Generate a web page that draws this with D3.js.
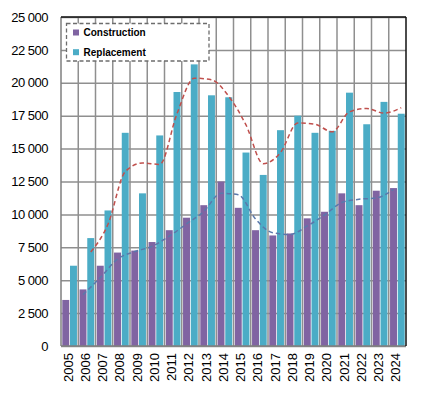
<!DOCTYPE html>
<html>
<head>
<meta charset="utf-8">
<script src="https://cdn.jsdelivr.net/npm/d3@7"></script>
<style>
  body { margin: 0; background: #fff; }
  text { font-family: "Liberation Sans", Arial, sans-serif; fill: #000; }
</style>
</head>
<body>
<div id="chart"></div>
<script>
// datos
const years = ["2005","2006","2007","2008","2009","2010","2011","2012","2013","2014",
               "2015","2016","2017","2018","2019","2020","2021","2022","2023","2024"];
const construction = [3500, 4300, 6100, 7100, 7250, 7900, 8800, 9750, 10700, 12500,
                      10500, 8800, 8400, 8550, 9700, 10200, 11600, 10700, 11800, 12000];
const replacement = [6100, 8200, 10300, 16200, 11600, 16000, 19300, 21400, 19050, 18900,
                     14700, 13000, 16400, 17500, 16200, 16350, 19250, 16850, 18550, 17650];
// lineas de tendencia (media movil de 2 periodos), desde 2006
const trendYears = years.slice(1);
const constructionTrend = [3900, 5200, 6600, 7175, 7575, 8350, 9275, 10225, 11600, 11500,
                           9650, 8600, 8475, 9125, 9950, 10900, 11150, 11250, 11900];
const replacementTrend = [7150, 9250, 13250, 13900, 13800, 17650, 20350, 20225, 18975, 16800,
                          13850, 14700, 16950, 16850, 16275, 17800, 18050, 17700, 18100];
const yTicks = [0, 2500, 5000, 7500, 10000, 12500, 15000, 17500, 20000, 22500, 25000];
const seriesNames = ["Construction", "Replacement"];

let width = 422, height = 393;
let margin = {top: 17, right: 16, bottom: 47, left: 61};
let colors = {Construction: '#8064a2', Replacement: '#4bacc6'};

const svg = d3.select('#chart')
    .append('svg')
    .attr('width', width)
    .attr('height', height);

let x0 = d3.scaleBand()
    .domain(years)
    .range([margin.left, width - margin.right])
    .paddingInner(0.15)
    .paddingOuter(0.075);

let x1 = d3.scaleBand()
    .domain(seriesNames)
    .range([0, x0.bandwidth()])
    .paddingInner(0.1);

let y = d3.scaleLinear()
    .domain([0, 25000])
    .range([height - margin.bottom, margin.top]);

let fmt = d3.formatLocale({decimal: ',', thousands: ' ', grouping: [3], currency: ['', '']}).format(',');

//Rejilla vertical (limites de categoria)
let step = x0.step();
let boundaries = years.slice(1).map(d => x0(d) - step * 0.075);
svg.append('g')
    .selectAll('line')
    .data(boundaries)
    .enter()
    .append('line')
    .attr('x1', d => d).attr('x2', d => d)
    .attr('y1', margin.top).attr('y2', height - margin.bottom)
    .attr('stroke', '#8f8f8f')
    .attr('stroke-width', 1.5);

//Eje Y con rejilla horizontal
let yAxis = svg.append('g')
    .attr('transform', 'translate(' + margin.left + ',0)')
    .call(d3.axisLeft(y)
        .tickValues(yTicks)
        .tickSize(-(width - margin.left - margin.right))
        .tickPadding(13)
        .tickFormat(fmt));
yAxis.select('.domain').remove();
yAxis.selectAll('.tick line')
    .attr('stroke', '#8f8f8f')
    .attr('stroke-width', 1.5);
yAxis.selectAll('.tick text')
    .attr('font-size', '13px')
    .attr('letter-spacing', '-0.5px')
    .style('font-family', '"Liberation Sans", Arial, sans-serif');

//Barras
let groups = svg.append('g')
    .selectAll('g')
    .data(years)
    .enter()
    .append('g')
    .attr('transform', d => 'translate(' + x0(d) + ',0)');

groups.selectAll('rect')
    .data((d, i) => [
        {name: 'Construction', value: construction[i]},
        {name: 'Replacement', value: replacement[i]}
    ])
    .enter()
    .append('rect')
    .attr('x', d => x1(d.name))
    .attr('width', x1.bandwidth())
    .attr('y', d => y(d.value))
    .attr('height', d => y(0) - y(d.value))
    .attr('fill', d => colors[d.name]);

//Bordes del area de grafico
svg.append('line')
    .attr('x1', margin.left).attr('x2', margin.left)
    .attr('y1', margin.top).attr('y2', height - margin.bottom)
    .attr('stroke', '#7f7f7f').attr('stroke-width', 1.5);
svg.append('line')
    .attr('x1', margin.left).attr('x2', width - margin.right)
    .attr('y1', height - margin.bottom).attr('y2', height - margin.bottom)
    .attr('stroke', '#7f7f7f').attr('stroke-width', 1.5);
svg.append('line')
    .attr('x1', margin.left).attr('x2', width - margin.right)
    .attr('y1', margin.top).attr('y2', margin.top)
    .attr('stroke', '#111').attr('stroke-width', 1.5);
svg.append('line')
    .attr('x1', width - margin.right).attr('x2', width - margin.right)
    .attr('y1', margin.top).attr('y2', height - margin.bottom)
    .attr('stroke', '#111').attr('stroke-width', 1.5);

//Lineas de tendencia
let trendLine = name => d3.line()
    .x((d, i) => x0(trendYears[i]) + x1(name) + x1.bandwidth() / 2)
    .y(d => y(d))
    .curve(d3.curveMonotoneX);

svg.append('path')
    .datum(replacementTrend)
    .attr('d', trendLine('Replacement'))
    .attr('fill', 'none')
    .attr('stroke', '#c0504d')
    .attr('stroke-width', 1.5)
    .attr('stroke-dasharray', '4.5,3');

svg.append('path')
    .datum(constructionTrend)
    .attr('d', trendLine('Construction'))
    .attr('fill', 'none')
    .attr('stroke', '#5b78ab')
    .attr('stroke-width', 1.5)
    .attr('stroke-dasharray', '4.5,3');

//Etiquetas de los años
svg.append('g')
    .selectAll('text')
    .data(years)
    .enter()
    .append('text')
    .attr('transform', d => 'translate(' + (x0(d) + x0.bandwidth() / 2 - 1.5) + ',' + (height - margin.bottom + 7) + ') rotate(-90)')
    .attr('text-anchor', 'end')
    .attr('dy', '0.35em')
    .attr('font-size', '13px')
    .text(d => d);

//Leyenda
let legend = svg.append('g');
legend.append('rect')
    .attr('x', 66.5).attr('y', 23.5)
    .attr('width', 142.5).attr('height', 37.5)
    .attr('fill', '#fff')
    .attr('stroke', '#6d6d6d')
    .attr('stroke-width', 1.3)
    .attr('stroke-dasharray', '4,2.5');

legend.selectAll('g')
    .data(seriesNames)
    .enter()
    .append('g')
    .attr('transform', (d, i) => 'translate(73,' + (29.5 + i * 19.7) + ')')
    .each(function(d) {
        let g = d3.select(this);
        g.append('rect')
            .attr('width', 6).attr('height', 6)
            .attr('fill', colors[d]);
        g.append('text')
            .attr('x', 10.5).attr('y', 3)
            .attr('dy', '0.35em')
            .attr('font-size', '10px')
            .attr('font-weight', 'bold')
            .text(d);
    });
</script>
</body>
</html>
